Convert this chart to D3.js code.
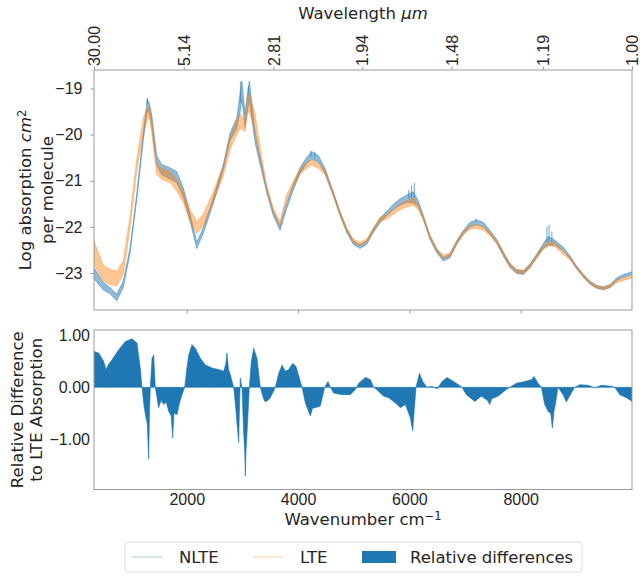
<!DOCTYPE html>
<html lang="en">
<head>
<meta charset="utf-8">
<title>NLTE vs LTE absorption</title>
<script src="https://cdn.jsdelivr.net/npm/d3@7"></script>
<style>
    body { margin: 0; background: #fff; }
    svg { font-family: "DejaVu Sans", sans-serif; }
    .axis text { font-size: 16px; fill: #262626; }
    .axis path, .axis line { stroke: #999; }
    .label { font-size: 16.5px; fill: #262626; }
</style>
</head>
<body>
<div id="chart"></div>
<script>
// wavenumber grid (cm^-1) for both spectra
const wavenumber = [333, 495, 620, 741, 860, 980, 1100, 1219, 1291, 1330, 1370, 1460, 1550, 1699, 1820,
    1938, 2058, 2179, 2297, 2477, 2657, 2777, 2898, 2960, 2990, 3047, 3090, 3124, 3227, 3316, 3437,
    3555, 3676, 3796, 3915, 4035, 4155, 4245, 4364, 4484, 4633, 4754, 4874, 4993, 5113, 5233, 5352,
    5472, 5593, 5712, 5832, 5953, 6071, 6161, 6251, 6371, 6491, 6610, 6730, 6851, 6969, 7090, 7210,
    7329, 7449, 7570, 7688, 7809, 7929, 8048, 8168, 8288, 8407, 8497, 8617, 8766, 8887, 9007, 9126,
    9246, 9367, 9486, 9606, 9726, 9845, 10000];

// log10 absorption (cm^2 / molecule), centre of the noisy band and its half width
const nlteLog = [-23.00, -23.28, -23.38, -23.53, -23.24, -22.52, -21.36, -20.05, -19.35, -19.45, -19.69,
    -20.56, -20.76, -20.84, -20.92, -21.25, -21.79, -22.40, -22.08, -21.43, -20.70, -20.05, -19.76,
    -19.30, -19.04, -19.69, -19.30, -19.04, -20.05, -20.56, -21.21, -21.71, -22.02, -21.54, -21.14,
    -20.78, -20.56, -20.45, -20.52, -20.78, -21.28, -21.71, -22.08, -22.34, -22.43, -22.34, -22.08,
    -21.86, -21.71, -21.57, -21.46, -21.39, -21.36, -21.50, -21.79, -22.23, -22.52, -22.70, -22.63,
    -22.34, -22.12, -21.95, -21.90, -21.95, -22.12, -22.31, -22.59, -22.84, -22.97, -22.99, -22.84,
    -22.63, -22.41, -22.30, -22.34, -22.48, -22.66, -22.88, -23.06, -23.21, -23.30, -23.33, -23.28,
    -23.13, -23.06, -23.00];
const nlteSpread = [0.12, 0.08, 0.07, 0.07, 0.07, 0.06, 0.06, 0.08, 0.12, 0.12, 0.12, 0.10, 0.11, 0.12,
    0.12, 0.10, 0.08, 0.07, 0.06, 0.06, 0.06, 0.08, 0.12, 0.20, 0.20, 0.15, 0.20, 0.20, 0.12, 0.08,
    0.05, 0.05, 0.05, 0.06, 0.06, 0.06, 0.07, 0.08, 0.07, 0.05, 0.04, 0.04, 0.04, 0.04, 0.04, 0.04,
    0.04, 0.05, 0.05, 0.06, 0.07, 0.08, 0.12, 0.06, 0.04, 0.04, 0.04, 0.04, 0.04, 0.04, 0.04, 0.05,
    0.05, 0.05, 0.04, 0.04, 0.04, 0.04, 0.04, 0.04, 0.04, 0.04, 0.05, 0.10, 0.05, 0.04, 0.03, 0.03,
    0.03, 0.03, 0.03, 0.03, 0.03, 0.03, 0.03, 0.03];

const lteLog = [-22.55, -23.00, -23.08, -23.12, -22.88, -21.90, -20.67, -19.80, -19.55, -19.50, -19.80,
    -20.75, -20.85, -20.92, -21.10, -21.35, -21.75, -22.01, -21.85, -21.35, -20.78, -20.20, -19.85,
    -19.70, -19.75, -19.80, -19.35, -19.30, -19.75, -20.40, -21.15, -21.65, -21.93, -21.36, -21.07,
    -20.80, -20.67, -20.60, -20.67, -20.82, -21.30, -21.71, -22.06, -22.30, -22.37, -22.30, -22.06,
    -21.84, -21.78, -21.68, -21.57, -21.50, -21.45, -21.57, -21.82, -22.22, -22.50, -22.65, -22.60,
    -22.34, -22.13, -22.01, -21.99, -22.03, -22.15, -22.33, -22.58, -22.83, -22.96, -22.98, -22.85,
    -22.63, -22.45, -22.36, -22.39, -22.56, -22.68, -22.88, -23.06, -23.21, -23.30, -23.33, -23.29,
    -23.18, -23.13, -23.08];
const lteSpread = [0.25, 0.18, 0.17, 0.16, 0.15, 0.12, 0.13, 0.16, 0.13, 0.13, 0.16, 0.11, 0.12, 0.12,
    0.12, 0.12, 0.13, 0.13, 0.13, 0.11, 0.11, 0.13, 0.16, 0.16, 0.13, 0.13, 0.20, 0.20, 0.20, 0.12,
    0.06, 0.05, 0.05, 0.06, 0.06, 0.06, 0.06, 0.06, 0.06, 0.05, 0.04, 0.04, 0.04, 0.04, 0.04, 0.04,
    0.04, 0.05, 0.05, 0.05, 0.06, 0.07, 0.08, 0.06, 0.04, 0.04, 0.04, 0.04, 0.04, 0.04, 0.04, 0.04,
    0.04, 0.04, 0.04, 0.04, 0.04, 0.04, 0.04, 0.04, 0.04, 0.04, 0.04, 0.05, 0.04, 0.04, 0.03, 0.03,
    0.03, 0.03, 0.03, 0.03, 0.03, 0.03, 0.03, 0.03];

// sharp NLTE noise spikes
const spikeWn = [1290, 2965, 3110, 4230, 4300, 5990, 6040, 6090, 7200, 8470, 8510, 8560];
const spikeBase = [-19.35, -19.30, -19.15, -20.48, -20.50, -21.38, -21.37, -21.38, -21.90, -22.32, -22.30, -22.32];
const spikeTop = [-19.20, -18.85, -18.95, -20.35, -20.38, -21.20, -21.10, -21.05, -21.82, -22.00, -21.96, -22.10];

// relative difference to LTE absorption
const diffWn = [333, 417, 507, 549, 600, 657, 777, 896, 1016, 1106, 1165, 1196, 1225, 1255, 1290, 1316,
    1330, 1345, 1376, 1406, 1435, 1495, 1540, 1585, 1630, 1675, 1720, 1747, 1770, 1825, 1870, 1915,
    1963, 2000, 2035, 2094, 2154, 2244, 2334, 2400, 2454, 2574, 2664, 2700, 2723, 2750, 2783, 2843,
    2880, 2903, 2933, 2945, 2962, 2992, 3023, 3040, 3052, 3065, 3082, 3124, 3160, 3203, 3262, 3322,
    3380, 3412, 3460, 3502, 3592, 3652, 3712, 3771, 3832, 3904, 3963, 4023, 4071, 4131, 4221, 4260,
    4311, 4400, 4479, 4538, 4580, 4640, 4790, 4939, 5029, 5090, 5209, 5299, 5359, 5449, 5539, 5629,
    5749, 5839, 5928, 6018, 6060, 6090, 6120, 6180, 6240, 6317, 6407, 6497, 6587, 6677, 6766, 6886,
    6946, 7024, 7175, 7294, 7400, 7444, 7480, 7593, 7743, 7804, 7923, 8073, 8200, 8240, 8312, 8372,
    8432, 8491, 8540, 8569, 8600, 8623, 8671, 8761, 8821, 8910, 8971, 9061, 9210, 9330, 9450, 9630,
    9690, 9780, 9899, 10000];
const diffValue = [0.69, 0.66, 0.50, 0.34, 0.45, 0.53, 0.72, 0.88, 0.93, 0.85, 0.37, 0, -0.30, -0.52,
    -0.70, -1.38, -0.50, 0, 0.56, 0.62, 0, -0.39, -0.25, -0.33, -0.28, -0.46, -0.55, -0.97, -0.50,
    -0.52, -0.30, -0.14, 0, 0.35, 0.62, 0.82, 0.75, 0.56, 0.43, 0.40, 0.37, 0.34, 0.31, 0.45, 0.66,
    0.35, 0.24, 0, -0.40, -0.71, -1.06, -0.50, 0.18, 0, -0.90, -1.20, -1.70, -1.20, -0.90, 0, 0.50,
    0.75, 0.56, 0, -0.22, -0.28, -0.25, -0.20, 0, 0.27, 0.43, 0.31, 0.34, 0.46, 0.40, 0.18, 0, -0.30,
    -0.55, -0.40, -0.39, -0.36, 0, 0.11, 0, -0.11, -0.14, -0.14, -0.04, 0.08, 0.19, 0.15, 0, -0.08,
    -0.17, -0.20, -0.30, -0.39, -0.33, -0.59, -0.84, -0.40, 0, 0.27, 0.11, 0, 0.02, -0.03, 0.11, 0.19,
    0.13, 0.05, 0, -0.14, -0.27, -0.17, -0.25, -0.33, -0.22, -0.17, -0.04, 0, 0.08, 0.11, 0.15, 0.21,
    0.08, 0, -0.33, -0.46, -0.50, -0.78, -0.45, -0.33, 0, -0.14, -0.28, -0.11, 0, 0.05, 0.04, -0.01,
    0.04, 0.02, 0, -0.14, -0.20, -0.27];

// axis ticks
const absTicks = [-23, -22, -21, -20, -19];
const diffTicks = [-1, 0, 1];
const wnTicks = [2000, 4000, 6000, 8000];
const wavelengthTicks = [30.00, 5.14, 2.81, 1.94, 1.48, 1.19, 1.00];

// layout
const W = 640, H = 576;
const left = 94, right = 632;
const top1 = 70, bottom1 = 310;
const top2 = 330, bottom2 = 489.5;

const svg = d3.select("#chart")
    .append("svg")
        .attr("width", W)
        .attr("height", H);

// scales
const x = d3.scaleLinear().domain([333.3, 10000]).range([left, right]);
const y1 = d3.scaleLinear().domain([-23.80, -18.60]).range([bottom1, top1]);
const y2 = d3.scaleLinear().domain([-1.96, 1.10]).range([bottom2, top2]);

svg.append("defs").append("clipPath").attr("id", "clip1")
    .append("rect").attr("x", left).attr("y", top1).attr("width", right - left).attr("height", bottom1 - top1);
svg.select("defs").append("clipPath").attr("id", "clip2")
    .append("rect").attr("x", left).attr("y", top2).attr("width", right - left).attr("height", bottom2 - top2);

// ---------- top panel: absorption spectra ----------
const band = (mid, spread) => d3.area()
    .x((d, i) => x(wavenumber[i]))
    .y0((d, i) => y1(mid[i] - spread[i]))
    .y1((d, i) => y1(mid[i] + spread[i]));

const g1 = svg.append("g").attr("clip-path", "url(#clip1)");

g1.append("path")
    .datum(wavenumber)
    .attr("d", band(nlteLog, nlteSpread))
    .attr("fill", "#1f77b4")
    .attr("fill-opacity", 0.5)
    .attr("stroke", "#1f77b4")
    .attr("stroke-opacity", 0.45)
    .attr("stroke-width", 1);

g1.selectAll(".spike")
    .data(spikeWn)
    .enter()
    .append("line")
        .attr("x1", d => x(d))
        .attr("x2", d => x(d))
        .attr("y1", (d, i) => y1(spikeBase[i]))
        .attr("y2", (d, i) => y1(spikeTop[i]))
        .attr("stroke", "#1f77b4")
        .attr("stroke-opacity", 0.55)
        .attr("stroke-width", 1.2);

g1.append("path")
    .datum(wavenumber)
    .attr("d", band(lteLog, lteSpread))
    .attr("fill", "#ff7f0e")
    .attr("fill-opacity", 0.45)
    .attr("stroke", "#ff7f0e")
    .attr("stroke-opacity", 0.35)
    .attr("stroke-width", 1);

// left axis
svg.append("g")
    .attr("class", "axis")
    .attr("transform", "translate(" + left + ",0)")
    .call(d3.axisLeft(y1).tickValues(absTicks).tickSize(3.5).tickPadding(8)
        .tickFormat(d => d3.format("d")(d).replace("-", "\u2212")))
    .call(g => g.select(".domain").remove());

// bottom ticks (no labels)
svg.append("g")
    .attr("class", "axis")
    .attr("transform", "translate(0," + bottom1 + ")")
    .call(d3.axisBottom(x).tickValues(wnTicks).tickSize(3.5).tickFormat(""))
    .call(g => g.select(".domain").remove());

// top axis: wavelength in micrometre
const topAxis = svg.append("g")
    .attr("class", "axis")
    .attr("transform", "translate(0," + top1 + ")")
    .call(d3.axisTop(x).tickValues(wavelengthTicks.map(l => 10000 / l)).tickSize(3.5)
        .tickFormat((d, i) => d3.format(".2f")(wavelengthTicks[i])))
    .call(g => g.select(".domain").remove());

topAxis.selectAll("text")
    .attr("transform", "rotate(-90)")
    .attr("x", 4)
    .attr("y", 0)
    .attr("dy", "0.35em")
    .style("text-anchor", "start");

// frame
svg.append("rect")
    .attr("x", left).attr("y", top1)
    .attr("width", right - left).attr("height", bottom1 - top1)
    .attr("fill", "none").attr("stroke", "#999").attr("stroke-width", 1);

// top title
const tTitle = svg.append("text")
    .attr("class", "label")
    .attr("x", (left + right) / 2)
    .attr("y", 19)
    .attr("text-anchor", "middle");
tTitle.append("tspan").text("Wavelength ");
tTitle.append("tspan").style("font-style", "italic").text("\u03bcm");

// y label top
const yl1 = svg.append("text")
    .attr("class", "label")
    .attr("transform", "translate(31," + (top1 + bottom1) / 2 + ") rotate(-90)")
    .attr("text-anchor", "middle");
yl1.append("tspan").attr("x", 0).text("Log absorption ");
yl1.append("tspan").style("font-style", "italic").text("cm");
yl1.append("tspan").attr("dy", "-0.45em").style("font-size", "11.5px").text("2");
yl1.append("tspan").attr("x", 0).attr("dy", "1.65em").text("per molecule");

// ---------- bottom panel: relative differences ----------
const g2 = svg.append("g").attr("clip-path", "url(#clip2)");

g2.append("path")
    .datum(diffWn)
    .attr("d", d3.area()
        .x((d, i) => x(diffWn[i]))
        .y0(y2(0))
        .y1((d, i) => y2(diffValue[i])))
    .attr("fill", "#1f77b4")
    .attr("stroke", "#1f77b4")
    .attr("stroke-width", 0.6);

svg.append("g")
    .attr("class", "axis")
    .attr("transform", "translate(" + left + ",0)")
    .call(d3.axisLeft(y2).tickValues(diffTicks).tickSize(0).tickPadding(4)
        .tickFormat(d3.format(".2f")))
    .call(g => g.select(".domain").remove());

svg.append("g")
    .attr("class", "axis")
    .attr("transform", "translate(0," + bottom2 + ")")
    .call(d3.axisBottom(x).tickValues(wnTicks).tickSize(0).tickPadding(4).tickFormat(d3.format("d")))
    .call(g => g.select(".domain").remove());

svg.append("rect")
    .attr("x", left).attr("y", top2)
    .attr("width", right - left).attr("height", bottom2 - top2)
    .attr("fill", "none").attr("stroke", "#999").attr("stroke-width", 1);

// x label
const xl = svg.append("text")
    .attr("class", "label")
    .attr("x", (left + right) / 2)
    .attr("y", 525)
    .attr("text-anchor", "middle");
xl.append("tspan").text("Wavenumber cm");
xl.append("tspan").attr("dy", "-0.45em").style("font-size", "11.5px").text("\u22121");

// y label bottom
const yl2 = svg.append("text")
    .attr("class", "label")
    .attr("transform", "translate(23," + (top2 + bottom2) / 2 + ") rotate(-90)")
    .attr("text-anchor", "middle");
yl2.append("tspan").attr("x", 0).text("Relative Difference");
yl2.append("tspan").attr("x", 0).attr("dy", "1.15em").text("to LTE Absorption");

// ---------- legend ----------
const legend = svg.append("g").attr("transform", "translate(125,542)");
legend.append("rect")
    .attr("width", 457).attr("height", 30).attr("rx", 3)
    .attr("fill", "#fff").attr("stroke", "#ddd");

const legendItems = [
    {name: "NLTE", kind: "line", color: "#1f77b4", x: 7},
    {name: "LTE", kind: "line", color: "#ff7f0e", x: 128},
    {name: "Relative differences", kind: "patch", color: "#1f77b4", x: 237}
];

const li = legend.selectAll(".legend-item")
    .data(legendItems)
    .enter()
    .append("g")
    .attr("class", "legend-item")
    .attr("transform", d => `translate(${d.x},0)`);

li.filter(d => d.kind === "line").append("line")
    .attr("x1", 0).attr("x2", 30).attr("y1", 15).attr("y2", 15)
    .attr("stroke", d => d.color).attr("stroke-opacity", 0.25).attr("stroke-width", 1.5);

li.filter(d => d.kind === "patch").append("rect")
    .attr("x", 0).attr("y", 9).attr("width", 34).attr("height", 12)
    .attr("fill", d => d.color);

li.append("text")
    .attr("class", "label")
    .attr("x", d => d.kind === "patch" ? 48 : 47)
    .attr("y", 15)
    .attr("dy", "0.35em")
    .text(d => d.name);
</script>
</body>
</html>
